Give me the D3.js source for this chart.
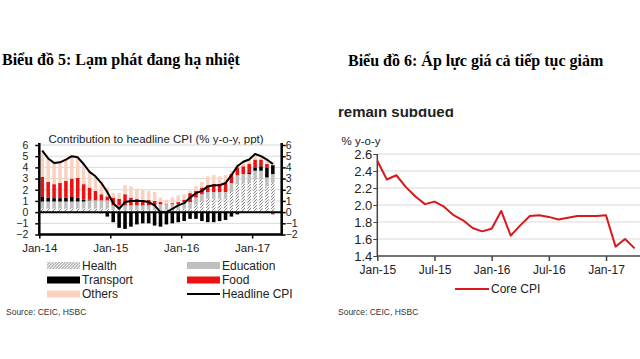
<!DOCTYPE html>
<html>
<head>
<meta charset="utf-8">
<script src="https://cdn.jsdelivr.net/npm/d3@7"></script>
<style>
  html, body { margin: 0; padding: 0; background: #fff; }
  svg { display: block; }
  text { font-family: "Liberation Sans", Arial, sans-serif; }
</style>
</head>
<body>
<svg id="chart" width="640" height="359"></svg>
<script>
// ---------- Data: left chart (Contribution to headline CPI, Jan-14 .. Apr-17) ----------
const headline  = [5.5,4.8,4.4,4.45,4.7,5.0,4.9,4.3,3.6,3.2,2.6,1.8,
                   0.8,0.3,0.9,1.0,1.0,1.0,0.9,0.6,0.0,0.0,0.3,0.6,
                   0.8,1.3,1.7,1.9,2.3,2.4,2.4,2.6,3.3,4.1,4.5,4.7,
                   5.2,5.0,4.7,4.3];
const health    = [0.35,0.35,0.35,0.35,0.35,0.35,0.35,0.35,0.35,0.35,0.35,0.35,
                   0.2,0.2,0.2,0.2,0.2,0.2,0.2,0.2,0.2,0.2,0.2,0.2,
                   0.3,0.3,0.7,1.0,1.2,1.2,1.2,1.2,1.8,2.5,2.6,2.6,
                   2.9,2.9,2.3,2.6];
const education = [0.6,0.6,0.6,0.6,0.6,0.6,0.6,0.6,0.7,0.7,0.7,0.7,
                   0.4,0.4,0.4,0.4,0.4,0.4,0.4,0.4,0.5,0.5,0.5,0.5,
                   0.6,0.6,0.6,0.6,0.6,0.6,0.6,0.6,0.8,0.8,0.8,0.8,
                   0.8,0.8,0.8,0.8];
const transport = [0.4,0.35,0.3,0.3,0.35,0.4,0.35,0.15,0.05,0.0,-0.1,-0.4,
                   -0.9,-1.4,-1.5,-1.3,-1.1,-1.0,-1.0,-1.2,-1.3,-1.1,-1.0,-0.9,
                   -0.8,-0.6,-0.6,-0.8,-0.9,-0.9,-0.8,-0.7,-0.4,-0.2,0.0,0.1,
                   0.3,0.4,0.9,0.8];
const food      = [1.8,1.4,1.25,1.35,1.5,1.65,1.75,1.4,1.1,0.85,0.55,0.35,
                   0.7,0.6,1.0,0.7,0.6,0.5,0.5,0.4,0.2,0.05,0.1,0.2,
                   0.2,0.8,0.6,0.6,0.6,0.7,0.7,0.8,0.8,0.7,0.7,0.8,
                   0.7,0.6,0.3,-0.2];
const others    = [2.35,2.1,1.9,1.85,1.9,2.0,1.85,1.8,1.4,1.3,1.1,0.8,
                   0.4,0.5,0.8,1.0,0.9,0.9,0.8,0.8,0.4,0.35,0.5,0.6,
                   0.5,0.2,0.4,0.5,0.8,0.8,0.7,0.7,0.3,0.3,0.4,0.4,
                   0.5,0.3,0.45,0.3];
const leftYTicks = [-2,-1,0,1,2,3,4,5,6];
const leftXTickLabels = ["Jan-14","Jan-15","Jan-16","Jan-17"];
const seriesNames = ["Health","Education","Transport","Food","Others"];
const seriesColors = {Health:"url(#hatch)", Education:"#bfbfbf", Transport:"#000000", Food:"#ee1111", Others:"#fad2c0"};

// ---------- Data: right chart (Core CPI, Jan-15 .. Apr-17) ----------
const coreCPI = [2.52,2.30,2.35,2.21,2.10,2.01,2.04,1.98,1.88,1.82,1.73,1.69,
                 1.72,1.93,1.64,1.76,1.87,1.88,1.86,1.83,1.85,1.87,1.87,1.87,
                 1.88,1.51,1.60,1.49];
const rightYTicks = [1.4,1.6,1.8,2.0,2.2,2.4,2.6];
const rightXTickLabels = ["Jan-15","Jul-15","Jan-16","Jul-16","Jan-17"];
const rightXTickIdx = [0,6,12,18,24];

const svg = d3.select("#chart");
const defs = svg.append("defs");
const pat = defs.append("pattern").attr("id","hatch").attr("patternUnits","userSpaceOnUse")
  .attr("width",3).attr("height",3);
pat.append("rect").attr("width",3).attr("height",3).attr("fill","#f2f2f2");
pat.append("path").attr("d","M-1,1 L1,-1 M0,3 L3,0 M2,4 L4,2").attr("stroke","#8a8a8a").attr("stroke-width",1);

// ---------- Titles ----------
svg.append("text").attr("x",2).attr("y",65)
  .style("font-family","'Liberation Serif','Times New Roman',serif").style("font-weight","bold")
  .style("font-size","16px").attr("fill","#000").text("Biểu đồ 5: Lạm phát đang hạ nhiệt");
svg.append("text").attr("x",348).attr("y",66)
  .style("font-family","'Liberation Serif','Times New Roman',serif").style("font-weight","bold")
  .style("font-size","16px").attr("fill","#000").text("Biểu đồ 6: Áp lực giá cả tiếp tục giảm");

// ================= LEFT CHART =================
const L = {x0:39.3, x1:281.7, yTop:145, yBot:234.5};
const nSlots = 41;
const xBand = d3.scaleBand().domain(d3.range(nSlots)).range([L.x0,L.x1]).paddingInner(0.4).paddingOuter(0.2);
const xTickL = d3.scaleLinear().domain([0,nSlots]).range([L.x0,L.x1]);
const yL = d3.scaleLinear().domain([-2,6]).range([L.yBot,L.yTop]);

svg.append("text").attr("x",156).attr("y",143).attr("text-anchor","middle")
  .style("font-size","11.5px").attr("fill","#222").text("Contribution to headline CPI (% y-o-y, ppt)");

// gridlines
svg.append("g").selectAll("line").data(leftYTicks.filter(d=>d!==0 && d!==-2)).join("line")
  .attr("x1",L.x0).attr("x2",L.x1).attr("y1",d=>yL(d)).attr("y2",d=>yL(d))
  .attr("stroke","#d9d9d9").attr("stroke-width",1);

// stacked bars
const rows = headline.map((h,i)=>({i, Health:health[i], Education:education[i], Transport:transport[i], Food:food[i], Others:others[i]}));
const stacked = d3.stack().keys(seriesNames).offset(d3.stackOffsetDiverging)(rows);
svg.append("g").selectAll("g").data(stacked).join("g")
  .attr("fill",d=>seriesColors[d.key])
  .selectAll("rect").data(d=>d).join("rect")
  .attr("x",d=>xBand(d.data.i)).attr("width",xBand.bandwidth())
  .attr("y",d=>yL(Math.max(d[0],d[1]))).attr("height",d=>Math.abs(yL(d[0])-yL(d[1])));

// zero line
svg.append("line").attr("x1",L.x0).attr("x2",L.x1).attr("y1",yL(0)).attr("y2",yL(0))
  .attr("stroke","#000").attr("stroke-width",2);

// headline line
svg.append("path").datum(headline)
  .attr("d", d3.line().x((d,i)=>xBand(i)+xBand.bandwidth()/2).y(d=>yL(d)))
  .attr("fill","none").attr("stroke","#000").attr("stroke-width",2).attr("stroke-linejoin","round");

// axes
const axL = d3.axisLeft(yL).tickValues(leftYTicks).tickSize(4).tickFormat(d3.format("d"));
const gAL = svg.append("g").attr("transform",`translate(${L.x0},0)`).call(axL);
const axR = d3.axisRight(yL).tickValues(leftYTicks).tickSize(4).tickFormat(d3.format("d"));
const gAR = svg.append("g").attr("transform",`translate(${L.x1},0)`).call(axR);
[gAL,gAR].forEach(g=>{
  g.select(".domain").attr("stroke","#000").attr("stroke-width",2.5).attr("d",`M0,${L.yTop-2}V${L.yBot+1}`);
  g.selectAll(".tick line").attr("stroke","#000").attr("stroke-width",1.5);
  g.selectAll(".tick text").style("font-size","10.5px").attr("fill","#222");
});
gAL.selectAll(".tick text").attr("x",-11);
gAR.selectAll(".tick text").attr("x",4);

const axB = d3.axisBottom(xTickL).tickValues([0,12,24,36]).tickSize(4)
  .tickFormat((d,i)=>leftXTickLabels[i]);
const gAB = svg.append("g").attr("transform",`translate(0,${L.yBot})`).call(axB);
gAB.select(".domain").attr("stroke","#000").attr("stroke-width",2.5).attr("d",`M${L.x0},0H${L.x1}`);
gAB.selectAll(".tick line").attr("stroke","#000").attr("stroke-width",1.5);
gAB.selectAll(".tick text").style("font-size","11.5px").attr("fill","#222").attr("y",9);

// legend
const legItems = [
  {name:"Health", col:0,row:0,type:"rect"},
  {name:"Education", col:1,row:0,type:"rect"},
  {name:"Transport", col:0,row:1,type:"rect"},
  {name:"Food", col:1,row:1,type:"rect"},
  {name:"Others", col:0,row:2,type:"rect"},
  {name:"Headline CPI", col:1,row:2,type:"line"}
];
const legX = [47,187], legY = [265.5,280,294];
const lg = svg.append("g").selectAll("g").data(legItems).join("g")
  .attr("transform",d=>`translate(${legX[d.col]},${legY[d.row]})`);
lg.filter(d=>d.type==="rect").append("rect").attr("x",0).attr("y",-3.5).attr("width",33).attr("height",7)
  .attr("fill",d=>seriesColors[d.name]);
lg.filter(d=>d.type==="line").append("line").attr("x1",0).attr("x2",33).attr("y1",0).attr("y2",0)
  .attr("stroke","#000").attr("stroke-width",2);
lg.append("text").attr("x",35).attr("y",0).attr("dy","0.35em").style("font-size","12px").attr("fill","#222").text(d=>d.name);

svg.append("text").attr("x",6).attr("y",315).style("font-size","8.5px").attr("fill","#333")
  .text("Source: CEIC, HSBC");

// ================= RIGHT CHART =================
const R = {x0:377.3, x1:634.6, yTop:154, yBot:256};
const xR = d3.scaleLinear().domain([0,27]).range([R.x0,R.x1]);
const yR = d3.scaleLinear().domain([1.4,2.6]).range([R.yBot,R.yTop]);

// cropped heading fragment
defs.append("clipPath").attr("id","cropTop").append("rect").attr("x",320).attr("y",108.5).attr("width",320).attr("height",20);
svg.append("text").attr("x",338).attr("y",116.5).attr("clip-path","url(#cropTop)")
  .style("font-size","15px").style("font-weight","bold").attr("fill","#222").text("remain subdued");

svg.append("text").attr("x",361).attr("y",141).attr("dy","0.35em").attr("text-anchor","middle")
  .style("font-size","11.5px").attr("fill","#222").text("% y-o-y");

svg.append("g").selectAll("line").data(rightYTicks.filter(d=>d>1.4)).join("line")
  .attr("x1",R.x0).attr("x2",640).attr("y1",d=>yR(d)).attr("y2",d=>yR(d))
  .attr("stroke","#d9d9d9").attr("stroke-width",1);

const axRL = d3.axisLeft(yR).tickValues(rightYTicks).tickSize(4).tickFormat(d3.format(".1f"));
const gRL = svg.append("g").attr("transform",`translate(${R.x0},0)`).call(axRL);
gRL.select(".domain").attr("stroke","#444").attr("stroke-width",1.5).attr("d",`M0,${R.yTop}V${R.yBot}`);
gRL.selectAll(".tick line").attr("stroke","#444");
gRL.selectAll(".tick text").style("font-size","13px").attr("fill","#222").attr("x",-5);

const axRB = d3.axisBottom(xR).tickValues(rightXTickIdx).tickSize(5).tickFormat((d,i)=>rightXTickLabels[i]);
const gRB = svg.append("g").attr("transform",`translate(0,${R.yBot})`).call(axRB);
gRB.select(".domain").attr("stroke","#444").attr("stroke-width",1.5).attr("d",`M${R.x0},0H640`);
gRB.selectAll(".tick line").attr("stroke","#444").attr("stroke-width",1.5);
gRB.selectAll(".tick text").style("font-size","12px").attr("fill","#222").attr("y",9);

svg.append("path").datum(coreCPI)
  .attr("d", d3.line().x((d,i)=>xR(i)).y(d=>yR(d)))
  .attr("fill","none").attr("stroke","#d7191c").attr("stroke-width",2).attr("stroke-linejoin","round");

svg.append("line").attr("x1",455).attr("x2",489).attr("y1",289).attr("y2",289)
  .attr("stroke","#d7191c").attr("stroke-width",2);
svg.append("text").attr("x",491).attr("y",289).attr("dy","0.35em").style("font-size","12px").attr("fill","#222").text("Core CPI");

svg.append("text").attr("x",338).attr("y",315).style("font-size","8.5px").attr("fill","#333")
  .text("Source: CEIC, HSBC");
</script>
</body>
</html>
